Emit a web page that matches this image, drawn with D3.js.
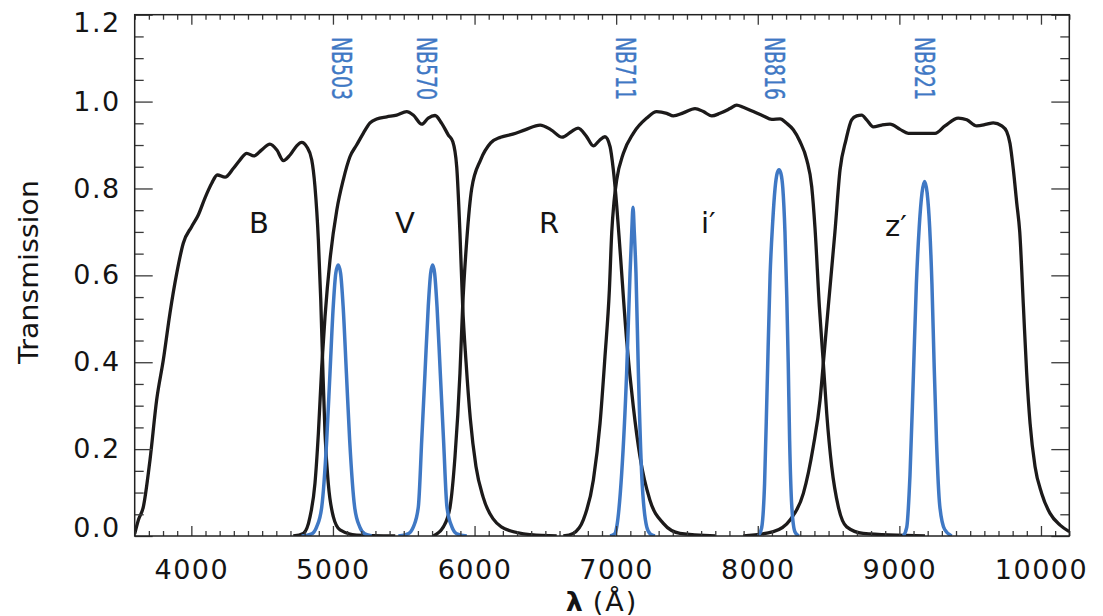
<!DOCTYPE html>
<html><head><meta charset="utf-8">
<script src="https://cdn.jsdelivr.net/npm/d3@7"></script>
<style>
html,body{margin:0;padding:0;background:#fff;}
svg{display:block;}
text{font-family:"DejaVu Sans","Liberation Sans",sans-serif;}
</style></head>
<body>
<div id="chart"></div>
<script>
// ---- data (wavelength in Å, transmission) ----
const xTickValues = [4000,5000,6000,7000,8000,9000,10000];
const xTickLabels = ["4000","5000","6000","7000","8000","9000","10000"];
const yTickValues = [0,0.2,0.4,0.6,0.8,1.0,1.2];
const yTickLabels = ["0.0","0.2","0.4","0.6","0.8","1.0","1.2"];

const broadNames = ["B","V","R","i′","z′"];
const broadLabelPos = [[4478,0.697],[5509,0.697],[6526,0.697],[7650,0.697],[8975,0.690]];

const bandB = [[3600,0.005],[3626,0.037],[3661,0.067],[3708,0.175],[3755,0.313],[3802,0.405],[3849,0.513],[3897,0.605],[3943,0.674],[4002,0.712],[4049,0.739],[4096,0.778],[4144,0.812],[4183,0.831],[4238,0.826],[4296,0.846],[4344,0.866],[4391,0.881],[4442,0.875],[4497,0.889],[4555,0.902],[4603,0.889],[4650,0.864],[4697,0.877],[4744,0.898],[4779,0.906],[4815,0.896],[4850,0.866],[4873,0.804],[4897,0.681],[4914,0.543],[4928,0.390],[4944,0.236],[4967,0.121],[5003,0.044],[5050,0.014],[5168,0.002],[5440,0]];
const bandV = [[4720,0],[4791,0.006],[4838,0.044],[4873,0.121],[4897,0.236],[4921,0.39],[4944,0.505],[4979,0.635],[5027,0.750],[5073,0.820],[5120,0.873],[5167,0.900],[5214,0.927],[5262,0.951],[5309,0.960],[5380,0.965],[5450,0.969],[5521,0.977],[5567,0.969],[5627,0.948],[5673,0.962],[5721,0.968],[5768,0.950],[5815,0.923],[5846,0.908],[5874,0.850],[5897,0.697],[5916,0.53],[5940,0.40],[5970,0.27],[6010,0.16],[6060,0.09],[6130,0.04],[6250,0.012],[6400,0.003],[6580,0]];
const bandR = [[5709,0],[5780,0.021],[5827,0.067],[5862,0.183],[5897,0.375],[5916,0.528],[5945,0.681],[5980,0.80],[6043,0.866],[6114,0.905],[6184,0.918],[6270,0.925],[6356,0.935],[6463,0.946],[6540,0.935],[6618,0.918],[6680,0.930],[6731,0.939],[6790,0.92],[6839,0.898],[6880,0.91],[6921,0.919],[6957,0.896],[6980,0.843],[7004,0.76],[7027,0.66],[7074,0.451],[7121,0.298],[7168,0.183],[7238,0.083],[7333,0.029],[7451,0.006],[7700,0]];
const bandI = [[6627,0],[6697,0.006],[6768,0.037],[6839,0.129],[6886,0.259],[6921,0.413],[6952,0.566],[6969,0.70],[6985,0.77],[7004,0.82],[7051,0.881],[7121,0.927],[7216,0.962],[7286,0.977],[7357,0.973],[7404,0.967],[7474,0.974],[7557,0.984],[7616,0.977],[7675,0.967],[7733,0.973],[7804,0.984],[7851,0.992],[7898,0.987],[7969,0.977],[8039,0.967],[8099,0.959],[8158,0.960],[8204,0.950],[8251,0.935],[8298,0.908],[8346,0.866],[8381,0.804],[8404,0.71],[8435,0.528],[8463,0.398],[8487,0.282],[8522,0.160],[8569,0.067],[8628,0.021],[8745,0.006],[9181,0]];
const bandZ = [[7898,0],[8110,0.01],[8228,0.037],[8322,0.098],[8392,0.206],[8440,0.313],[8463,0.398],[8498,0.528],[8545,0.70],[8581,0.843],[8623,0.912],[8663,0.958],[8699,0.967],[8734,0.969],[8769,0.958],[8816,0.942],[8876,0.946],[8934,0.948],[9005,0.936],[9063,0.927],[9146,0.927],[9252,0.927],[9322,0.944],[9416,0.962],[9476,0.958],[9546,0.944],[9617,0.948],[9663,0.951],[9723,0.944],[9758,0.931],[9781,0.904],[9805,0.843],[9829,0.766],[9850,0.70],[9876,0.528],[9899,0.375],[9923,0.259],[9958,0.160],[10005,0.098],[10064,0.052],[10135,0.025],[10200,0.01]];

const nbNames = ["NB503","NB570","NB711","NB816","NB921"];
const nbLabelX = [5062,5662,7065,8117,9179];
const nb503 = [[4779,0],[4850,0.005],[4885,0.021],[4921,0.067],[4956,0.221],[4979,0.375],[5002,0.528],[5020,0.605],[5037,0.624],[5054,0.605],[5072,0.528],[5095,0.375],[5118,0.221],[5153,0.067],[5189,0.021],[5224,0.005],[5274,0]];
const nb570 = [[5462,0],[5530,0.005],[5568,0.021],[5603,0.067],[5627,0.221],[5650,0.375],[5673,0.528],[5690,0.605],[5704,0.624],[5718,0.605],[5735,0.528],[5758,0.375],[5781,0.221],[5805,0.067],[5840,0.021],[5875,0.005],[5945,0]];
const nb711 = [[6957,0],[6990,0.005],[7004,0.021],[7039,0.144],[7074,0.375],[7098,0.605],[7110,0.70],[7119,0.757],[7128,0.70],[7140,0.605],[7157,0.375],[7180,0.144],[7216,0.021],[7240,0.005],[7274,0]];
const nb816 = [[8004,0],[8028,0.02],[8048,0.12],[8066,0.34],[8087,0.60],[8105,0.72],[8122,0.80],[8137,0.835],[8150,0.843],[8163,0.835],[8177,0.80],[8192,0.70],[8205,0.55],[8215,0.40],[8225,0.22],[8240,0.07],[8262,0.01],[8290,0]];
const nb921 = [[9028,0],[9052,0.02],[9075,0.14],[9099,0.37],[9120,0.58],[9140,0.71],[9160,0.79],[9178,0.816],[9196,0.79],[9214,0.71],[9230,0.58],[9245,0.40],[9262,0.22],[9285,0.07],[9320,0.015],[9370,0]];

const broadBands = [bandB,bandV,bandR,bandI,bandZ];
const narrowBands = [nb503,nb570,nb711,nb816,nb921];

// ---- layout ----
const W = 1103, H = 616;
const L = 134.7, R = 1069.3, T = 14.7, B = 536;
const x = d3.scaleLinear().domain([3600,10200]).range([L,R]);
const y = d3.scaleLinear().domain([0,1.2]).range([B,T]);
const BLUE = "#3f78c4", BLACK = "#1c1a1a", AXIS = "#3a3a3a", TXT = "#141414";

const svg = d3.select("#chart").append("svg").attr("width",W).attr("height",H);

svg.append("clipPath").attr("id","clip").append("rect")
  .attr("x",L).attr("y",T-10).attr("width",R-L).attr("height",B-T+10);

const line = d3.line().x(d=>x(d[0])).y(d=>y(d[1])).curve(d3.curveMonotoneX);
const plot = svg.append("g").attr("clip-path","url(#clip)");

plot.selectAll("path.broad").data(broadBands).join("path")
  .attr("class","broad").attr("d",line).attr("fill","none")
  .attr("stroke",BLACK).attr("stroke-width",3.3).attr("stroke-linejoin","round");
plot.selectAll("path.nb").data(narrowBands).join("path")
  .attr("class","nb").attr("d",line).attr("fill","none")
  .attr("stroke",BLUE).attr("stroke-width",3.5).attr("stroke-linejoin","round");

// ---- axes ----
const minorX = d3.range(3600,10201,100).filter(v=>v%1000!==0);
const minorY = d3.range(0,1.2001,0.05).filter(v=>Math.abs(v*5-Math.round(v*5))>1e-6);

function styleAxis(g){
  g.select(".domain").remove();
  g.selectAll(".tick line").attr("stroke",AXIS).attr("stroke-width",1.3);
}
// bottom
svg.append("g").attr("transform",`translate(0,${B})`)
  .call(d3.axisBottom(x).tickValues(minorX).tickSizeInner(-5).tickSizeOuter(0).tickFormat(""))
  .call(styleAxis);
const xb = svg.append("g").attr("transform",`translate(0,${B})`)
  .call(d3.axisBottom(x).tickValues(xTickValues).tickSizeInner(-10).tickSizeOuter(0)
    .tickPadding(24).tickFormat((d,i)=>xTickLabels[i]))
  .call(styleAxis);
xb.selectAll("text").attr("font-size",27).attr("fill",TXT).attr("font-family","DejaVu Sans").attr("letter-spacing",1.5);
// top
svg.append("g").attr("transform",`translate(0,${T})`)
  .call(d3.axisTop(x).tickValues(minorX).tickSizeInner(-5).tickSizeOuter(0).tickFormat(""))
  .call(styleAxis);
svg.append("g").attr("transform",`translate(0,${T})`)
  .call(d3.axisTop(x).tickValues(xTickValues).tickSizeInner(-10).tickSizeOuter(0).tickFormat(""))
  .call(styleAxis);
// left
svg.append("g").attr("transform",`translate(${L},0)`)
  .call(d3.axisLeft(y).tickValues(minorY).tickSizeInner(-9).tickSizeOuter(0).tickFormat(""))
  .call(styleAxis);
const yl = svg.append("g").attr("transform",`translate(${L},0)`)
  .call(d3.axisLeft(y).tickValues(yTickValues).tickSizeInner(-18).tickSizeOuter(0)
    .tickPadding(14).tickFormat((d,i)=>yTickLabels[i]))
  .call(styleAxis);
yl.selectAll("text").attr("font-size",27).attr("fill",TXT).attr("font-family","DejaVu Sans").attr("letter-spacing",1.5)
  .attr("dy",(d)=> d===0 ? "-0.0em" : (d===1.2 ? "0.62em" : "0.32em"));
// right
svg.append("g").attr("transform",`translate(${R},0)`)
  .call(d3.axisRight(y).tickValues(minorY).tickSizeInner(-9).tickSizeOuter(0).tickFormat(""))
  .call(styleAxis);
svg.append("g").attr("transform",`translate(${R},0)`)
  .call(d3.axisRight(y).tickValues(yTickValues).tickSizeInner(-18).tickSizeOuter(0).tickFormat(""))
  .call(styleAxis);

// frame
svg.append("rect").attr("x",L).attr("y",T).attr("width",R-L).attr("height",B-T)
  .attr("fill","none").attr("stroke","#222").attr("stroke-width",1.5);

// axis titles
const xt = svg.append("text").attr("x",602).attr("y",611).attr("text-anchor","middle")
  .attr("font-size",27).attr("fill",TXT).attr("letter-spacing",2);
xt.append("tspan").attr("font-weight","bold").text("λ");
xt.append("tspan").attr("dx",8).text("(Å)");
svg.append("text").attr("transform","translate(38,272) rotate(-90)")
  .attr("text-anchor","middle").attr("font-size",27).attr("fill",TXT)
  .attr("textLength",184).attr("lengthAdjust","spacingAndGlyphs")
  .text("Transmission");

// band labels
svg.selectAll("text.band").data(broadNames).join("text").attr("class","band")
  .attr("x",(d,i)=>x(broadLabelPos[i][0])).attr("y",(d,i)=>y(broadLabelPos[i][1]))
  .attr("text-anchor","middle").attr("font-size",29).attr("fill",TXT)
  .text(d=>d);

// narrow band labels (rotated)
svg.selectAll("text.nbl").data(nbNames).join("text").attr("class","nbl")
  .attr("transform",(d,i)=>`translate(${x(nbLabelX[i])},37) rotate(90)`)
  .attr("font-family","Liberation Sans Narrow, Liberation Sans, sans-serif")
  .attr("font-size",27).attr("fill",BLUE).attr("stroke",BLUE).attr("stroke-width",0.4)
  .attr("dy","0.36em")
  .attr("textLength",63).attr("lengthAdjust","spacingAndGlyphs")
  .text(d=>d);
</script>
</body></html>
